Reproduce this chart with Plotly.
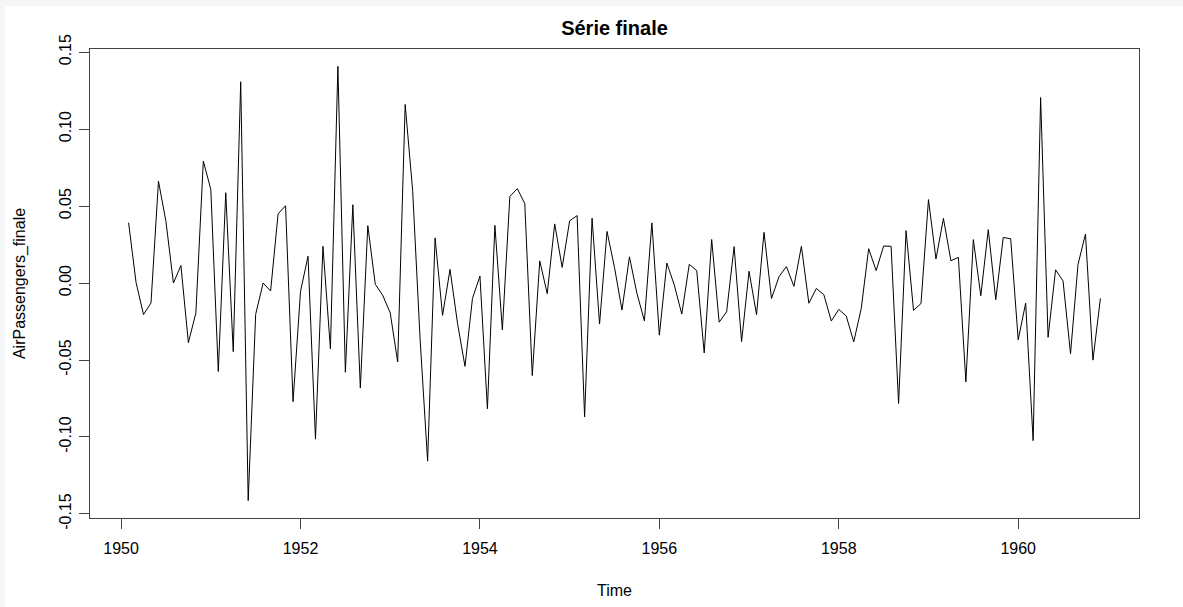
import plotly.graph_objects as go

# Série finale: diff(diff(log(AirPassengers)), lag=12), monthly from Feb 1950 to Dec 1960
start_year = 1950
start_month = 2
values = [
    # 1950 (Feb-Dec)
    0.039164, 0.000361, -0.020495, -0.012940, 0.066148, 0.039915, 0.000000, 0.011354, -0.038714, -0.019419, 0.079150,
    # 1951
    0.060845, -0.057449, 0.058671, -0.044549, 0.130705, -0.141342, -0.020331, 0.000000, -0.005166, 0.044906, 0.050162, -0.077063,
    # 1952
    -0.005416, 0.017392, -0.101416, 0.023841, -0.042755, 0.140719, -0.057937, 0.050859, -0.068235, 0.037279, -0.000790, -0.008017,
    # 1953
    -0.019419, -0.051293, 0.115984, 0.059947, -0.036853, -0.115670, 0.029304, -0.021006, 0.008862, -0.026141, -0.054122, -0.010016,
    # 1954
    0.004558, -0.081678, 0.037427, -0.030390, 0.056235, 0.061289, 0.051590, -0.060107, 0.014397, -0.006904, 0.038385, 0.010168,
    # 1955
    0.040401, 0.043778, -0.086933, 0.042098, -0.026660, 0.033523, 0.010103, -0.017575, 0.017023, -0.006769, -0.024552, 0.039045,
    # 1956
    -0.033863, 0.012944, -0.001327, -0.020161, 0.012137, 0.008054, -0.045389, 0.028268, -0.025447, -0.018658, 0.023602, -0.038095,
    # 1957
    0.007635, -0.020507, 0.032937, -0.010030, 0.004068, 0.010682, -0.002160, 0.023853, -0.013145, -0.003557, -0.007547, -0.024667,
    # 1958
    -0.017153, -0.021432, -0.038228, -0.016713, 0.022285, 0.008056, 0.024066, 0.023822, -0.078229, 0.033997, -0.017737, -0.013288,
    # 1959
    0.054186, 0.015602, 0.041949, 0.014503, 0.016640, -0.064219, 0.028198, -0.008240, 0.034721, -0.010821, 0.029581, 0.028732,
    # 1960
    -0.036822, -0.013085, -0.102379, 0.120466, -0.035260, 0.008564, 0.001377, -0.045934, 0.012023, 0.031831, -0.050082, -0.009964,
]
time = [start_year + (start_month - 1 + i) / 12 for i in range(len(values))]

x_tickvals = [1950, 1952, 1954, 1956, 1958, 1960]
x_ticktext = ["1950", "1952", "1954", "1956", "1958", "1960"]
y_tickvals = [-0.15, -0.10, -0.05, 0.00, 0.05, 0.10, 0.15]
y_ticktext = ["-0.15", "-0.10", "-0.05", "0.00", "0.05", "0.10", "0.15"]

title_text = "Série finale"
x_title = "Time"
y_title = "AirPassengers_finale"

FONT = "Liberation Sans, Arial, Helvetica, sans-serif"
AX = "#444444"

fig = go.Figure()
fig.add_trace(go.Scatter(x=time, y=values, mode="lines",
                         line=dict(color="black", width=1), hoverinfo="x+y"))

fig.update_layout(
    width=1183, height=607,
    margin=dict(l=90, r=44, t=49, b=89),
    paper_bgcolor="#f5f6f8",
    plot_bgcolor="white",
    showlegend=False,
    font=dict(family=FONT, size=16, color="black"),
    title=dict(text="<b>" + title_text + "</b>", x=0.5, xref="paper", xanchor="center",
               y=1 - 28 / 607, yanchor="middle", font=dict(size=20, family=FONT, color="black")),
    shapes=[dict(type="rect", xref="paper", yref="paper", layer="below",
                 x0=(5 - 90) / 1049, x1=1.2, y0=-0.3, y1=(518 - 6) / 469,
                 fillcolor="white", line=dict(width=0))],
)
fig.update_xaxes(
    range=[1949.6533, 1961.3467], tickvals=x_tickvals, ticktext=x_ticktext,
    showgrid=False, zeroline=False, showline=True, mirror=True,
    linecolor=AX, linewidth=1, ticks="outside", ticklen=10, tickcolor=AX, tickwidth=1,
    ticklabelstandoff=6,
    title=dict(text=x_title, standoff=28, font=dict(size=16)),
)
fig.update_yaxes(
    range=[-0.15262, 0.15200], tickvals=y_tickvals, ticktext=y_ticktext, tickangle=-90,
    showgrid=False, zeroline=False, showline=True, mirror=True,
    linecolor=AX, linewidth=1, ticks="outside", ticklen=10, tickcolor=AX, tickwidth=1,
    ticklabelstandoff=2,
    title=dict(text=y_title, standoff=26, font=dict(size=16)),
)

fig.write_html("out.html", config={"displayModeBar": False},
               post_script="document.body.style.margin='0';document.body.style.background='#f5f6f8';")
